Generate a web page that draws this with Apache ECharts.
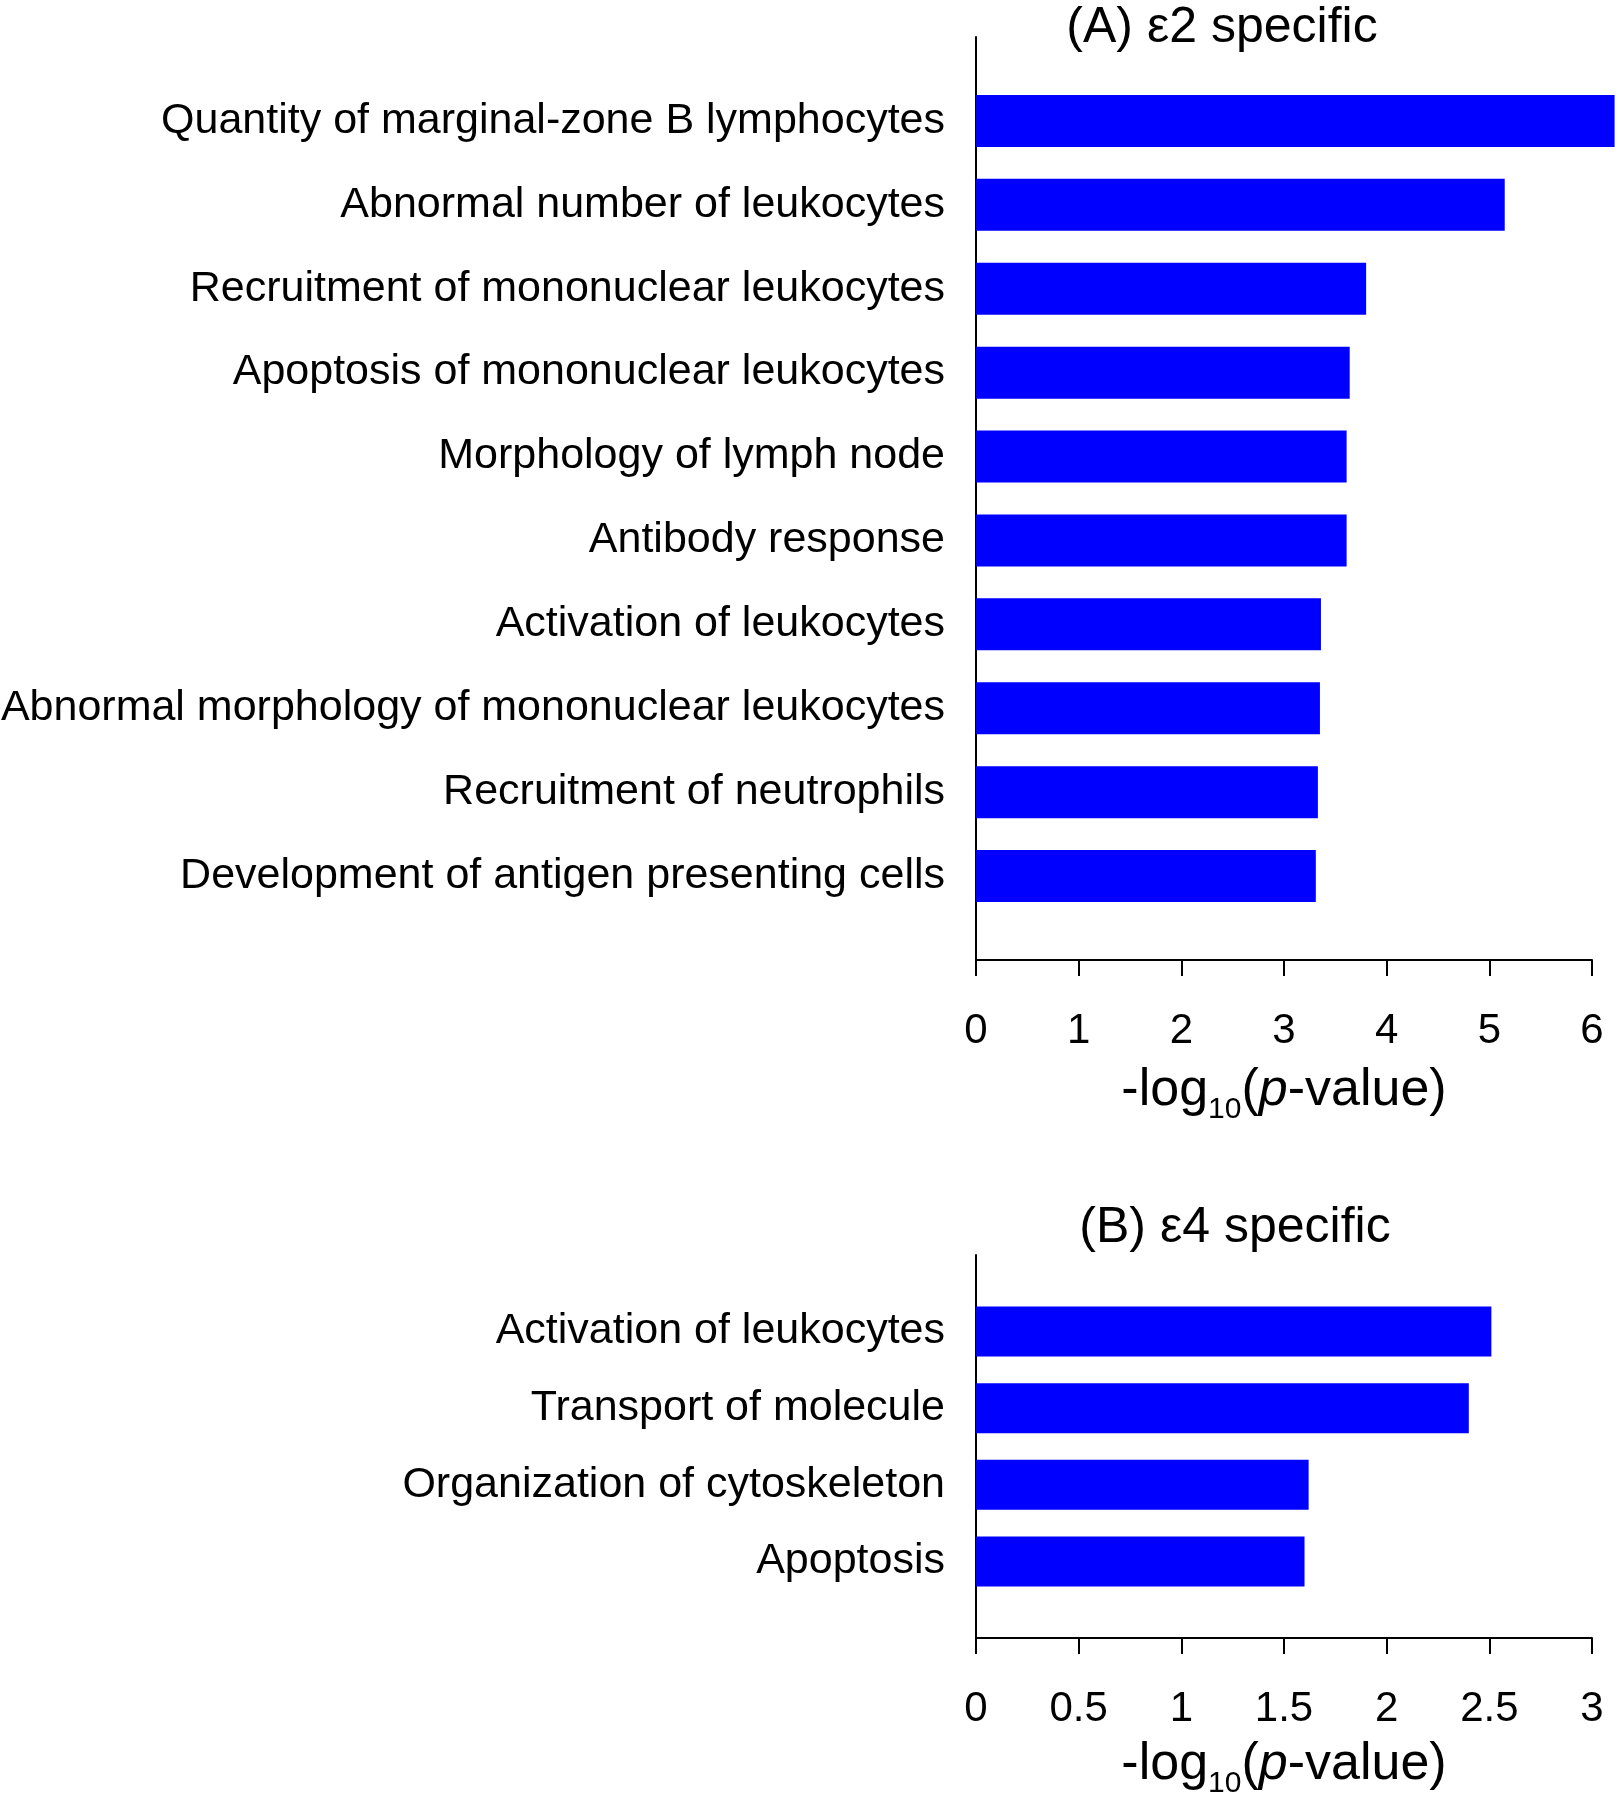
<!DOCTYPE html>
<html>
<head>
<meta charset="utf-8">
<script src="https://cdn.jsdelivr.net/npm/echarts@6/dist/echarts.min.js"></script>
<style>
  html, body { margin: 0; padding: 0; background: #fff; }
  #chart { width: 1623px; height: 1800px; }
</style>
</head>
<body>
<div id="chart"></div>
<script>
const categoriesA = [
  'Quantity of marginal-zone B lymphocytes',
  'Abnormal number of leukocytes',
  'Recruitment of mononuclear leukocytes',
  'Apoptosis of mononuclear leukocytes',
  'Morphology of lymph node',
  'Antibody response',
  'Activation of leukocytes',
  'Abnormal morphology of mononuclear leukocytes',
  'Recruitment of neutrophils',
  'Development of antigen presenting cells'
];
const valuesA = [6.22, 5.15, 3.80, 3.64, 3.61, 3.61, 3.36, 3.35, 3.33, 3.31];

const categoriesB = [
  'Activation of leukocytes',
  'Transport of molecule',
  'Organization of cytoskeleton',
  'Apoptosis'
];
const valuesB = [2.51, 2.40, 1.62, 1.60];

const titleA = '(A) \u03B52 specific';
const titleB = '(B) \u03B54 specific';
const ticksA = { min: 0, max: 6, interval: 1 };
const ticksB = { min: 0, max: 3, interval: 0.5 };

const FONT = '"Liberation Sans", Arial, Helvetica, sans-serif';

// pad categories with empty slots at both ends so bars sit on band edges
const pad = arr => [''].concat(arr, ['']);
const padVals = arr => [null].concat(arr, [null]);

const axisNameRich = {
  n: { fontSize: 52, fontFamily: FONT, color: '#000', lineHeight: 62 },
  i: { fontSize: 52, fontFamily: FONT, color: '#000', lineHeight: 62, fontStyle: 'italic' },
  s: { fontSize: 30, fontFamily: FONT, color: '#000', lineHeight: 30, padding: [38, 0, 0, 0] }
};
const axisName = '{n|-log}{s|10}{n|(}{i|p}{n|-value)}';

function xAxisCfg(gridIndex, t) {
  return {
    type: 'value', gridIndex: gridIndex,
    min: t.min, max: t.max, interval: t.interval,
    name: axisName, nameLocation: 'middle', nameGap: 91,
    nameTextStyle: { rich: axisNameRich },
    axisLine: { show: true, lineStyle: { color: '#000', width: 2 } },
    axisTick: { show: true, length: 16, lineStyle: { color: '#000', width: 2 } },
    axisLabel: { fontSize: 42, lineHeight: 42, fontFamily: FONT, color: '#000', margin: 50 },
    splitLine: { show: false }
  };
}
function yAxisCfg(gridIndex, cats) {
  return {
    type: 'category', gridIndex: gridIndex, inverse: true, boundaryGap: false,
    data: pad(cats),
    axisLine: { show: true, onZero: false, lineStyle: { color: '#000', width: 2 } },
    axisTick: { show: false },
    axisLabel: { fontSize: 43, fontFamily: FONT, color: '#000', margin: 31, interval: 0 },
    splitLine: { show: false }
  };
}

const chart = echarts.init(document.getElementById('chart'), null, { renderer: 'canvas' });
chart.setOption({
  backgroundColor: '#fff',
  animation: false,
  title: [
    { text: titleA, left: 1222, top: 0, textAlign: 'center', padding: 0,
      textStyle: { fontSize: 50, fontWeight: 'normal', fontFamily: FONT, color: '#000', lineHeight: 56 } },
    { text: titleB, left: 1235, top: 1200, textAlign: 'center', padding: 0,
      textStyle: { fontSize: 50, fontWeight: 'normal', fontFamily: FONT, color: '#000', lineHeight: 56 } }
  ],
  grid: [
    { left: 976, right: 31, top: 37, height: 923, containLabel: false, outerBoundsMode: 'none' },
    { left: 976, right: 31, top: 1255, height: 383, containLabel: false, outerBoundsMode: 'none' }
  ],
  xAxis: [xAxisCfg(0, ticksA), xAxisCfg(1, ticksB)],
  yAxis: [yAxisCfg(0, categoriesA), yAxisCfg(1, categoriesB)],
  series: [
    { type: 'bar', xAxisIndex: 0, yAxisIndex: 0, data: padVals(valuesA),
      barWidth: 52, clip: false, itemStyle: { color: '#0000FF' } },
    { type: 'bar', xAxisIndex: 1, yAxisIndex: 1, data: padVals(valuesB),
      barWidth: 50, clip: false, itemStyle: { color: '#0000FF' } }
  ]
});
</script>
</body>
</html>
